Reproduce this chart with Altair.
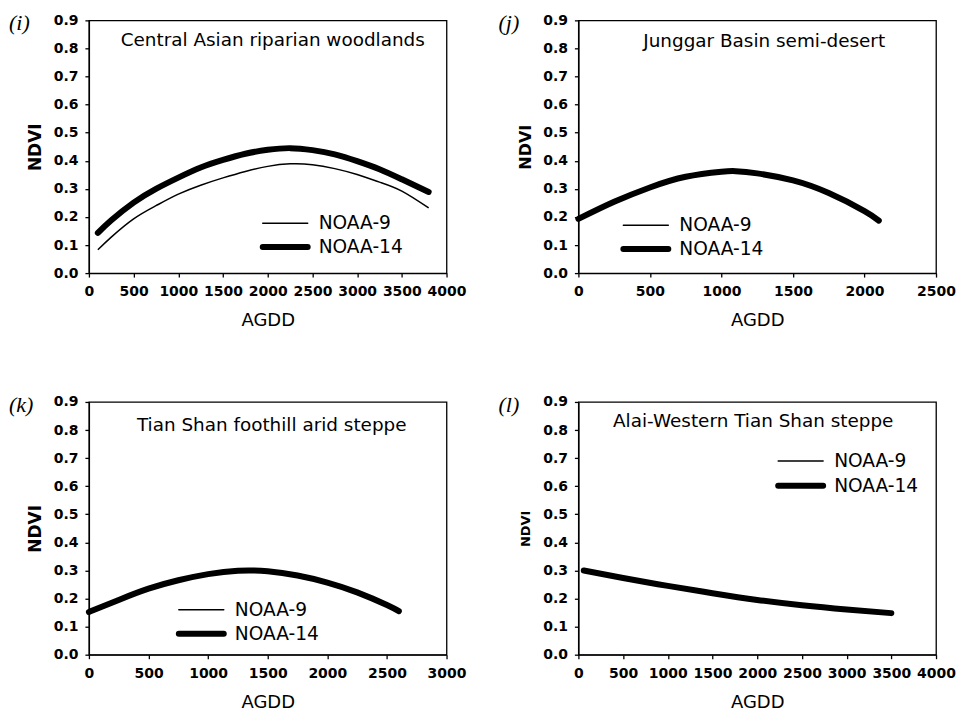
import altair as alt
import pandas as pd

# ---------------- data ----------------
series_names = ["NOAA-9", "NOAA-14"]

# (i) Central Asian riparian woodlands
agdd_i = [100, 250, 500, 750, 1000, 1250, 1500, 1750, 2000, 2250, 2500, 2750, 3000, 3250, 3500, 3800]
noaa9_i = [0.083, 0.128, 0.193, 0.240, 0.281, 0.313, 0.339, 0.362, 0.380, 0.389, 0.386, 0.372, 0.351, 0.324, 0.292, 0.232]
noaa14_i = [0.143, 0.188, 0.251, 0.300, 0.340, 0.376, 0.403, 0.425, 0.439, 0.445, 0.438, 0.423, 0.399, 0.370, 0.334, 0.289]

# (j) Junggar Basin semi-desert (both series overlap)
agdd_j = [0, 250, 500, 750, 1000, 1100, 1250, 1500, 1750, 2000, 2100]
noaa9_j = [0.193, 0.254, 0.305, 0.343, 0.361, 0.363, 0.355, 0.330, 0.285, 0.221, 0.187]
noaa14_j = [0.193, 0.254, 0.305, 0.343, 0.361, 0.363, 0.355, 0.330, 0.285, 0.221, 0.187]

# (k) Tian Shan foothill arid steppe (both series overlap)
agdd_k = [0, 250, 500, 750, 1000, 1250, 1500, 1750, 2000, 2250, 2500, 2600]
noaa9_k = [0.152, 0.195, 0.235, 0.265, 0.287, 0.299, 0.297, 0.282, 0.257, 0.222, 0.177, 0.155]
noaa14_k = [0.152, 0.195, 0.235, 0.265, 0.287, 0.299, 0.297, 0.282, 0.257, 0.222, 0.177, 0.155]

# (l) Alai-Western Tian Shan steppe (both series overlap)
agdd_l = [60, 500, 1000, 1500, 2000, 2500, 3000, 3500]
noaa9_l = [0.300, 0.273, 0.245, 0.219, 0.195, 0.176, 0.161, 0.148]
noaa14_l = [0.300, 0.273, 0.245, 0.219, 0.195, 0.176, 0.161, 0.148]

titles = ["Central Asian riparian woodlands", "Junggar Basin semi-desert",
          "Tian Shan foothill arid steppe", "Alai-Western Tian Shan steppe"]
letters = ["i", "j", "k", "l"]
x_max = [4000, 2500, 3000, 4000]
y_ticks = [0.0, 0.1, 0.2, 0.3, 0.4, 0.5, 0.6, 0.7, 0.8, 0.9]

FONT = "DejaVu Sans"
W, H = 358, 253
THIN, THICK = 1.5, 6


def panel(x, y9, y14, xmax, title, letter, title_pos, leg_pos, ndvi_size, label_dy):
    df9 = pd.DataFrame({"AGDD": x, "NDVI": y9})
    df14 = pd.DataFrame({"AGDD": x, "NDVI": y14})
    xenc = alt.X("AGDD:Q",
                 scale=alt.Scale(domain=[0, xmax], nice=False, zero=False),
                 axis=alt.Axis(values=list(range(0, xmax + 1, 500)), format="d", title="AGDD",
                               labelOverlap=False, labelFlush=False,
                               titleX=W / 2, titleY=label_dy + 27, titleBaseline="middle",
                               titleFontSize=18, titleFontWeight="normal", labelPadding=label_dy - 13))
    yenc = alt.Y("NDVI:Q",
                 scale=alt.Scale(domain=[0, 0.9], nice=False),
                 axis=alt.Axis(values=y_ticks, format=".1f", title="NDVI",
                               labelOverlap=False, labelFlush=False,
                               titleX=-53, titleY=H / 2, titleBaseline="middle",
                               titleFontSize=ndvi_size, titleFontWeight="bold", labelPadding=7))
    thin = alt.Chart(df9).mark_line(color="black", strokeWidth=THIN, interpolate="natural").encode(x=xenc, y=yenc)
    thick = alt.Chart(df14).mark_line(color="black", strokeWidth=THICK, strokeCap="round",
                                      interpolate="natural").encode(x=xenc, y=yenc)
    one = pd.DataFrame({"k": [0]})
    layers = [thin, thick]
    # subtitle inside the plot
    layers.append(alt.Chart(one).mark_text(font=FONT, fontSize=18.4, color="black", align="center",
                                           baseline="middle")
                  .encode(x=alt.value(title_pos[0]), y=alt.value(title_pos[1]), text=alt.value(title)))
    # panel letter
    layers.append(alt.Chart(one).mark_text(font="Liberation Serif", fontSize=22, fontStyle="italic",
                                           color="black", align="left", baseline="middle")
                  .encode(x=alt.value(-80), y=alt.value(3), text=alt.value(f"({letter})")))
    # legend
    lx, ly, gap = leg_pos
    for i, (name, sw) in enumerate(zip(series_names, [THIN, THICK])):
        yy = ly + i * gap
        layers.append(alt.Chart(one).mark_rule(color="black", strokeWidth=sw, strokeCap="round")
                      .encode(x=alt.value(lx), x2=alt.value(lx + 45), y=alt.value(yy)))
        layers.append(alt.Chart(one).mark_text(font=FONT, fontSize=18.6, color="black", align="left",
                                               baseline="middle")
                      .encode(x=alt.value(lx + 56), y=alt.value(yy), text=alt.value(name)))
    return alt.layer(*layers).properties(width=W, height=H)


p_i = panel(agdd_i, noaa9_i, noaa14_i, x_max[0], titles[0], letters[0], (184, 20), (174, 203, 24), 17, 20)
p_j = panel(agdd_j, noaa9_j, noaa14_j, x_max[1], titles[1], letters[1], (186, 21), (45, 205, 24), 16, 20)
p_k = panel(agdd_k, noaa9_k, noaa14_k, x_max[2], titles[2], letters[2], (183, 23), (90, 208, 24), 17, 21)
p_l = panel(agdd_l, noaa9_l, noaa14_l, x_max[3], titles[3], letters[3], (175, 19), (200, 59, 25), 13, 21)

chart = alt.concat(p_i, p_j, p_k, p_l, columns=2, spacing=alt.RowColnumber(row=129, column=132),
                   bounds="flush").properties(
    padding={"left": 0, "top": 3, "right": 0, "bottom": 0}
).configure_view(stroke="black", strokeWidth=1.3).configure_axis(
    grid=False, domainColor="black", domainWidth=1.3, tickColor="black", tickWidth=1.3, tickSize=4,
    labelFont=FONT, labelFontSize=14, labelFontWeight="bold", labelColor="black",
    titleFont=FONT, titleColor="black"
)

chart.save("out.html", embed_options={"renderer": "svg", "actions": False})
